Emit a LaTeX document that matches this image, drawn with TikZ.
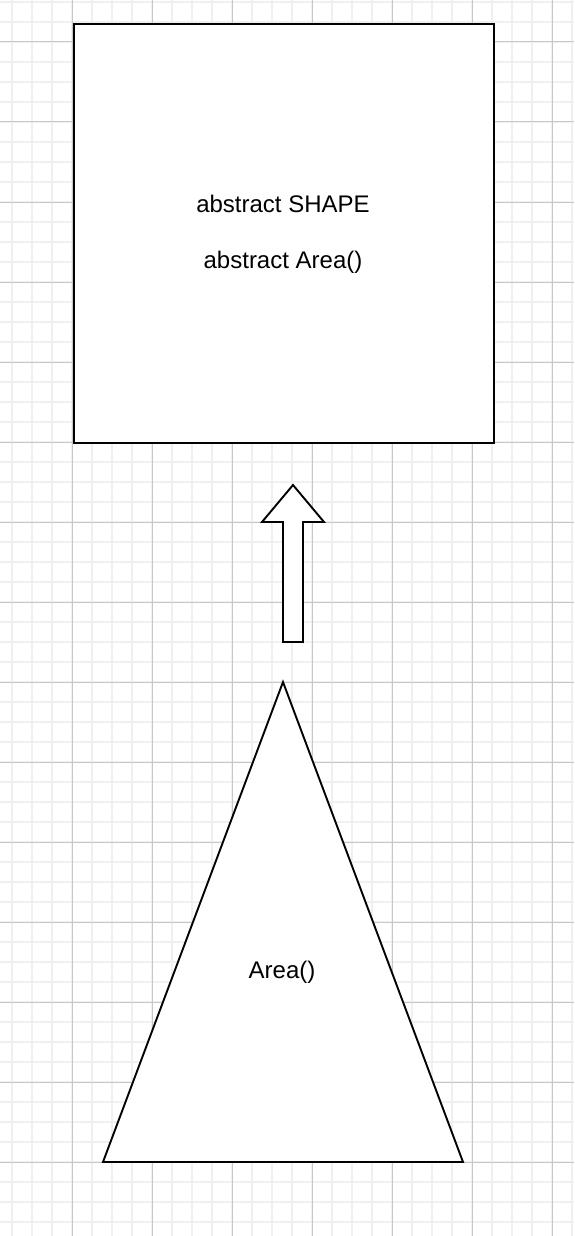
\documentclass[tikz,border=0pt]{standalone}
\usepackage{fontspec}
\setmainfont{Liberation Sans}
\begin{document}
\begin{tikzpicture}[x=1pt,y=-1pt,
  minorline/.style={draw=black!6,line width=1.6pt},
  majorline/.style={draw=black!22,line width=1pt},
  outline/.style={draw=black,line width=1.9pt,fill=white},
  lbl/.style={font=\fontsize{24}{28}\selectfont,inner sep=0pt}]
\useasboundingbox (0,0) rectangle (574,1236);
\fill[white] (0,0) rectangle (574,1236);
\foreach \x in {12,32,...,572} \draw[minorline] (\x,0) -- (\x,1236);
\foreach \y in {2,22,...,1232} \draw[minorline] (0,\y) -- (574,\y);
\foreach \x in {72,152,...,552} \draw[majorline] (\x,0) -- (\x,1236);
\foreach \y in {42,122,...,1202} \draw[majorline] (0,\y) -- (574,\y);
% abstract shape box
\node[outline,minimum width=420pt,minimum height=419pt,anchor=north west,inner sep=0pt] (box) at (73,23) {};
\node[lbl] (t1) at (283,204) {abstract SHAPE};
\node[lbl] (t2) at (283,262) {abstract Area()};
% hollow arrow
\draw[outline,line join=miter] (283,642) -- (283,522) -- (262,522) -- (293,485) -- (324,522) -- (303,522) -- (303,642) -- cycle;
% triangle
\draw[outline,line join=miter] (283,682) -- (463,1162) -- (103,1162) -- cycle;
\node[lbl] (t3) at (282,972) {Area()};
\end{tikzpicture}
\end{document}
